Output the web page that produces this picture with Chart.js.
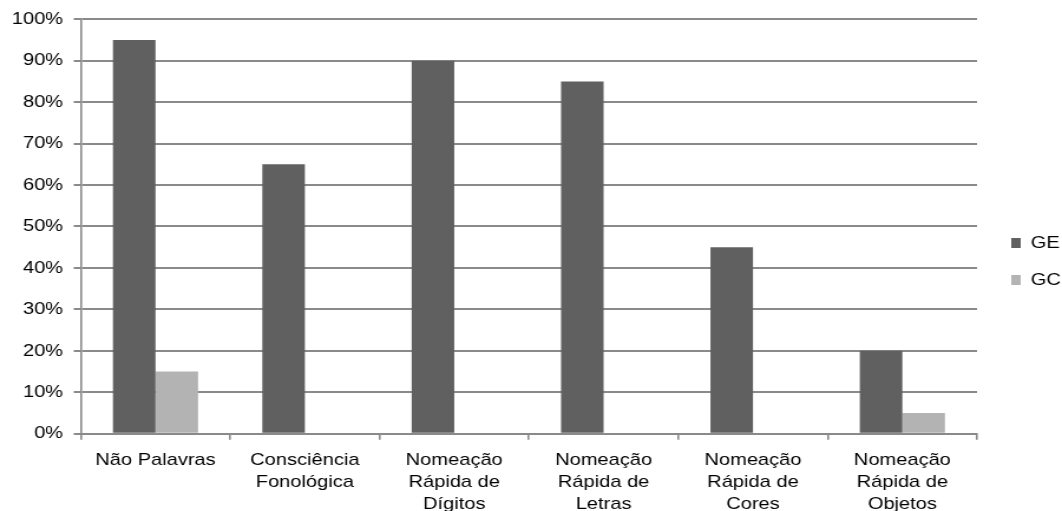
<!DOCTYPE html>
<html>
<head>
<meta charset="utf-8">
<script src="https://cdn.jsdelivr.net/npm/chart.js@4/dist/chart.umd.min.js"></script>
<style>
    html, body { margin: 0; padding: 0; background: #fff; overflow: hidden; width: 1062px; height: 511px; }
    #wrap { width: 909px; height: 525px; transform: scaleX(1.18); transform-origin: 0 0; }
</style>
</head>
<body>
<div id="wrap"><canvas id="grafico" width="909" height="525"></canvas></div>
<script>
// Categorias (rótulos do eixo x)
const categorias = [
    'Não Palavras',
    ['Consciência', 'Fonológica'],
    ['Nomeação', 'Rápida de', 'Dígitos'],
    ['Nomeação', 'Rápida de', 'Letras'],
    ['Nomeação', 'Rápida de', 'Cores'],
    ['Nomeação', 'Rápida de', 'Objetos']
];

// Valores em %
const valoresGE = [95, 65, 90, 85, 45, 20];
const valoresGC = [15, 0, 0, 0, 0, 5];

const fonte = "'Liberation Sans', Arial, Helvetica, sans-serif";
const corLinha = '#8a8a8a';

// sobe um pouco a legenda
const subirLegenda = {
    id: 'subirLegenda',
    afterLayout(chart) {
        chart.legend.top -= 7;
        chart.legend.bottom -= 7;
    }
};

new Chart(document.getElementById('grafico'), {
    type: 'bar',
    data: {
        labels: categorias,
        datasets: [
            { label: 'GE', data: valoresGE, backgroundColor: '#606060', categoryPercentage: 0.57, barPercentage: 1 },
            { label: 'GC', data: valoresGC, backgroundColor: '#b3b3b3', categoryPercentage: 0.57, barPercentage: 1 }
        ]
    },
    plugins: [subirLegenda],
    options: {
        responsive: false,
        animation: false,
        devicePixelRatio: 1,
        layout: { padding: { top: 12, left: 1, right: 0, bottom: 0 } },
        plugins: {
            tooltip: { enabled: false },
            legend: {
                position: 'right',
                labels: {
                    boxWidth: 8,
                    boxHeight: 10,
                    padding: 20,
                    color: '#000',
                    font: { family: fonte, size: 17 }
                }
            }
        },
        scales: {
            x: {
                offset: true,
                grid: { drawOnChartArea: false, color: corLinha, lineWidth: 1.6, tickLength: 6, offset: true },
                border: { color: corLinha, width: 2 },
                ticks: {
                    color: '#000',
                    maxRotation: 0,
                    autoSkip: false,
                    padding: 10,
                    font: { family: fonte, size: 17, lineHeight: 1.28 }
                }
            },
            y: {
                min: 0,
                max: 100,
                grid: { color: corLinha, lineWidth: 2, tickLength: 6 },
                border: { color: corLinha, width: 1.6 },
                ticks: {
                    stepSize: 10,
                    color: '#000',
                    padding: 9,
                    font: { family: fonte, size: 17 },
                    callback: v => v + '%'
                }
            },
            // espaço vazio entre a área do gráfico e a legenda
            espaco: {
                position: 'right',
                grid: { display: false },
                border: { display: false },
                ticks: { display: false },
                afterFit: s => { s.width = 9; }
            }
        }
    }
});
</script>
</body>
</html>
